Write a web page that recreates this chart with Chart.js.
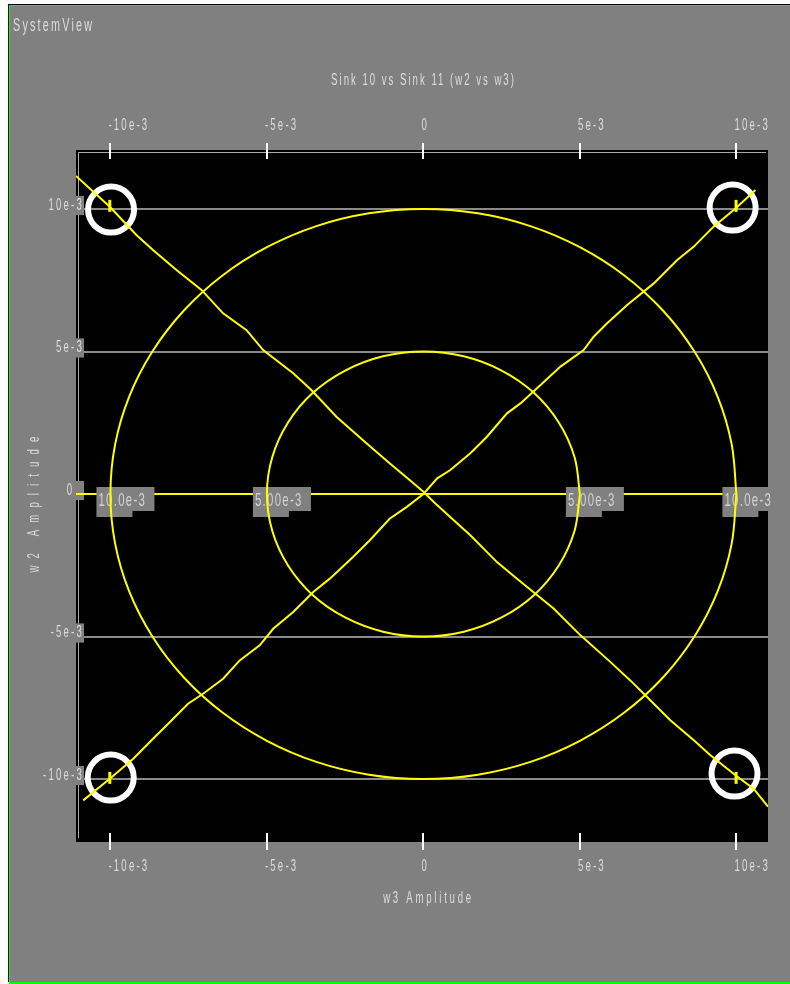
<!DOCTYPE html>
<html>
<head>
<meta charset="utf-8">
<script src="https://cdn.jsdelivr.net/npm/chart.js@4.4.1/dist/chart.umd.min.js"></script>
<style>
  html, body { margin: 0; padding: 0; background: #ffffff; }
  canvas { display: block; }
</style>
</head>
<body>
<canvas id="c" width="790" height="984"></canvas>
<script>
// ---------- DATA (values in units of 1e-3) ----------
const bigCircleW3 = [10.00, 9.85, 9.40, 8.66, 7.66, 6.43, 5.00, 3.42, 1.74, 0.00, -1.74, -3.42, -5.00, -6.43, -7.66, -8.66, -9.40, -9.85, -10.00, -9.85, -9.40, -8.66, -7.66, -6.43, -5.00, -3.42, -1.74, 0.00, 1.74, 3.42, 5.00, 6.43, 7.66, 8.66, 9.40, 9.85, 10.00];
const bigCircleW2 = [0.00, 1.74, 3.42, 5.00, 6.43, 7.66, 8.66, 9.40, 9.85, 10.00, 9.85, 9.40, 8.66, 7.66, 6.43, 5.00, 3.42, 1.74, 0.00, -1.74, -3.42, -5.00, -6.43, -7.66, -8.66, -9.40, -9.85, -10.00, -9.85, -9.40, -8.66, -7.66, -6.43, -5.00, -3.42, -1.74, 0.00];

const smallCircleW3 = [5.00, 4.83, 4.33, 3.54, 2.50, 1.29, 0.00, -1.29, -2.50, -3.54, -4.33, -4.83, -5.00, -4.83, -4.33, -3.54, -2.50, -1.29, 0.00, 1.29, 2.50, 3.54, 4.33, 4.83, 5.00];
const smallCircleW2 = [0.00, 1.29, 2.50, 3.54, 4.33, 4.83, 5.00, 4.83, 4.33, 3.54, 2.50, 1.29, 0.00, -1.29, -2.50, -3.54, -4.33, -4.83, -5.00, -4.83, -4.33, -3.54, -2.50, -1.29, 0.00];

const diagDownW3 = [-11.10, -10.02, -9.17, -8.64, -7.89, -7.09, -6.40, -5.65, -5.12, -4.16, -3.58, -2.78, -1.82, -1.08, -0.44, 0.00, 0.33, 0.97, 1.50, 2.35, 2.99, 3.58, 4.16, 5.02, 5.97, 6.61, 7.09, 7.89, 8.64, 9.17, 9.97, 10.55, 11.01];
const diagDownW2 = [11.16, 10.08, 9.09, 8.56, 7.86, 7.16, 6.34, 5.75, 5.05, 4.24, 3.65, 2.71, 1.78, 1.08, 0.49, 0.08, -0.28, -0.92, -1.45, -2.39, -2.97, -3.50, -4.02, -4.96, -5.89, -6.54, -7.06, -7.94, -8.64, -9.17, -9.87, -10.34, -10.97];

const diagUpW3 = [-10.87, -10.02, -9.27, -8.64, -8.21, -7.52, -7.04, -6.40, -5.87, -5.23, -4.80, -4.16, -3.52, -2.99, -2.25, -1.72, -1.08, -0.54, 0.00, 0.44, 0.86, 1.50, 2.03, 2.67, 3.10, 3.63, 4.38, 5.12, 5.44, 5.87, 6.51, 7.36, 8.11, 8.64, 9.27, 9.97, 10.61];
const diagUpW2 = [-10.75, -9.99, -9.29, -8.59, -8.12, -7.36, -7.01, -6.48, -5.84, -5.31, -4.73, -4.14, -3.44, -2.97, -2.21, -1.63, -0.87, -0.46, 0.00, 0.55, 0.84, 1.43, 2.01, 2.83, 3.18, 3.71, 4.47, 5.05, 5.52, 5.99, 6.63, 7.39, 8.21, 8.68, 9.38, 10.02, 10.67];

const zeroLineW3 = [-11.10, 11.01];
const zeroLineW2 = [0.00, 0.00];

const ringW3 = [-9.98, 9.88, -9.99, 9.94];
const ringW2 = [9.98, 10.05, -9.95, -9.81];

const markW3 = [-10.02, 9.99, -10.02, 9.99];
const markW2 = [10.11, 10.11, -9.96, -9.96];

const X_MIN = -11.10, X_MAX = 11.01;
const Y_MIN = -12.21, Y_MAX = 12.07;

const xTickValues = [-10, -5, 0, 5, 10];
const xTickLabels = ['-10e-3', '-5e-3', '0', '5e-3', '10e-3'];
const yTickValues = [-10, -5, 0, 5, 10];
const yTickLabels = ['-10e-3', '-5e-3', '0', '5e-3', '10e-3'];

const centerLabelValues = [-10, -5, 5, 10];
const centerLabelTexts = ['10.0e-3', '5.00e-3', '5.00e-3', '10.0e-3'];

const topLeftText = 'SystemView';
const chartTitle = 'Sink 10 vs Sink 11 (w2 vs w3)';
const xTitle = 'w3 Amplitude';
const yTitle = 'w2 Amplitude';

// ---------- STYLE ----------
const M = 1e-3;
const FONT = '"Liberation Sans", Arial, sans-serif';
const H_SCALE = 0.6;
const TICK_SPACING = 2.2;
const TEXT = '#dcdcdc';
const YELLOW = '#ffff00';
const GRAY = '#808080';

const pts = (xs, ys) => xs.map((v, i) => ({ x: v * M, y: ys[i] * M }));
const yLabelText = i => yTickLabels[i] + (yTickValues[i] === 0 ? '  ' : '');

// widest y label (as Chart.js measures it) so mirrored, right-aligned labels end at a fixed x
const measureCtx = document.createElement('canvas').getContext('2d');
measureCtx.font = '16px Liberation Sans';
const yWidest = Math.max(...yTickValues.map((v, i) => measureCtx.measureText(yLabelText(i)).width));

function drawText(ctx, text, x, y, o) {
  ctx.save();
  ctx.font = o.size + 'px ' + FONT;
  ctx.fillStyle = o.color || TEXT;
  ctx.textAlign = o.align || 'left';
  ctx.textBaseline = 'middle';
  ctx.translate(x, y);
  if (o.rotate) ctx.rotate(o.rotate);
  ctx.scale(H_SCALE, 1);
  ctx.letterSpacing = (o.spacing / H_SCALE) + 'px';
  CanvasRenderingContext2D.prototype.fillText.call(ctx, text, 0, 0);
  ctx.restore();
}

const textStyle = {
  id: 'textStyle',
  beforeDraw(chart) {
    const ctx = chart.ctx;
    if (ctx.__patched) return;
    ctx.__patched = true;
    const raw = CanvasRenderingContext2D.prototype.fillText;
    ctx.fillText = function (text, x, y) {
      this.save();
      this.translate(x, y);
      this.scale(H_SCALE, 1);
      this.letterSpacing = (TICK_SPACING / H_SCALE) + 'px';
      raw.call(this, text, 0, 0);
      this.restore();
    };
  }
};

const frame = {
  id: 'frame',
  beforeDraw(chart) {
    const ctx = chart.ctx, a = chart.chartArea;
    const W = chart.width, H = chart.height;
    ctx.save();
    ctx.fillStyle = '#ffffff'; ctx.fillRect(0, 0, W, H);
    ctx.fillStyle = '#000000'; ctx.fillRect(8, 4, W - 8, H - 6);
    ctx.fillStyle = '#00ff00'; ctx.fillRect(9, 5, W - 9, H - 5);
    ctx.fillStyle = GRAY; ctx.fillRect(10, 6, W - 10, H - 8);
    ctx.fillStyle = '#000000'; ctx.fillRect(a.left, a.top, a.right - a.left, a.bottom - a.top);
    ctx.fillStyle = '#a8a8a8';
    ctx.fillRect(a.left + 2, a.top + 2, a.right - a.left - 4, 1);
    ctx.fillRect(a.left + 2, a.top + 2, 1, a.bottom - a.top - 6);
    ctx.restore();
  },
  afterDatasetDraw(chart, args) {
    const ds = chart.data.datasets[args.index];
    if (ds.label !== 'zeroLine') return;
    const ctx = chart.ctx;
    const xs = chart.scales.x, ys = chart.scales.y;
    const y0 = ys.getPixelForValue(0);
    ctx.save();
    centerLabelValues.forEach((v, i) => {
      const px = xs.getPixelForValue(v * M);
      ctx.fillStyle = GRAY;
      ctx.fillRect(px - 14, y0 - 7, 58, 24);
      ctx.fillRect(px - 14, y0 + 17, 36, 6);
      drawText(ctx, centerLabelTexts[i], px - 12, y0 + 6.5, { size: 19, spacing: 1.3, color: '#d2d2d2' });
    });
    ctx.restore();
  },
  afterDraw(chart) {
    const ctx = chart.ctx, a = chart.chartArea;
    ctx.save();
    ctx.fillStyle = '#ffffff';
    chart.scales.x2.ticks.forEach(t => {
      const px = Math.round(chart.scales.x2.getPixelForValue(t.value));
      ctx.fillRect(px - 1, a.top - 7, 2, 16);
    });
    chart.scales.x.ticks.forEach(t => {
      const px = Math.round(chart.scales.x.getPixelForValue(t.value));
      ctx.fillRect(px - 1, a.bottom - 9, 2, 17);
    });
    ctx.restore();
    drawText(ctx, topLeftText, 13, 26.5, { size: 18, spacing: 2.2 });
    drawText(ctx, chartTitle, 423.5, 81, { size: 16, spacing: 2.0, align: 'center' });
    drawText(ctx, xTitle, 428.5, 899, { size: 16, spacing: 2.76, align: 'center' });
    drawText(ctx, yTitle, 35, 501, { size: 16, spacing: 7.1, align: 'center', rotate: -Math.PI / 2 });
  }
};

const lineDs = (label, xs, ys, order, tension) => ({
  label, data: pts(xs, ys), showLine: true, borderColor: YELLOW, borderWidth: 2,
  pointRadius: 0, tension: tension || 0, fill: false, order
});

const tickFont = { family: 'Liberation Sans', size: 16 };
const setTicks = vals => scale => { scale.ticks = vals.map(v => ({ value: v * M })); };
const fixSize = (prop, size) => scale => {
  scale[prop] = size;
  scale.paddingLeft = 0; scale.paddingRight = 0; scale.paddingTop = 0; scale.paddingBottom = 0;
};

const xAxisBase = {
  type: 'linear', min: X_MIN * M, max: X_MAX * M,
  grid: { display: false, drawTicks: false },
  border: { display: false },
  afterBuildTicks: setTicks(xTickValues),
  ticks: {
    color: TEXT, font: tickFont, padding: 15, align: 'start', labelOffset: -2,
    autoSkip: false, maxRotation: 0, minRotation: 0,
    callback: (v, i) => xTickLabels[i]
  }
};

new Chart(document.getElementById('c'), {
  type: 'scatter',
  data: {
    datasets: [
      { label: 'marks', data: pts(markW3, markW2), showLine: false, pointStyle: 'line', rotation: 90,
        pointRadius: 6, pointBorderWidth: 3, pointBorderColor: YELLOW, borderColor: YELLOW, order: 0 },
      lineDs('bigCircle', bigCircleW3, bigCircleW2, 1, 0.35),
      lineDs('smallCircle', smallCircleW3, smallCircleW2, 1, 0.35),
      lineDs('diagDown', diagDownW3, diagDownW2, 1),
      lineDs('diagUp', diagUpW3, diagUpW2, 1),
      lineDs('zeroLine', zeroLineW3, zeroLineW2, 2),
      { label: 'rings', data: pts(ringW3, ringW2), showLine: false, pointStyle: 'circle',
        pointRadius: 23, pointBorderWidth: 6, pointBorderColor: '#ffffff',
        pointBackgroundColor: 'rgba(0,0,0,0)', clip: false, order: 3 }
    ]
  },
  options: {
    responsive: false,
    devicePixelRatio: 1,
    animation: false,
    events: [],
    layout: { autoPadding: false, padding: { left: 0, top: 0, right: 22, bottom: 0 } },
    plugins: { legend: { display: false }, tooltip: { enabled: false }, title: { display: false } },
    scales: {
      x: Object.assign({}, xAxisBase, { position: 'bottom', afterFit: fixSize('height', 142) }),
      x2: Object.assign({}, xAxisBase, { position: 'top', afterFit: fixSize('height', 150) }),
      y: {
        type: 'linear', position: 'left', min: Y_MIN * M, max: Y_MAX * M,
        afterBuildTicks: setTicks(yTickValues),
        afterFit: fixSize('width', 76),
        grid: { color: '#8a8a8a', lineWidth: 2, drawTicks: false },
        border: { display: false },
        ticks: {
          color: TEXT, font: tickFont, mirror: true, crossAlign: 'far',
          padding: 8 - yWidest, labelOffset: -3.5, autoSkip: false,
          showLabelBackdrop: true, backdropColor: GRAY,
          backdropPadding: c => (c.tick && c.tick.value === 0)
            ? { top: 2.4, bottom: 2.4, left: 2, right: -7 }
            : { top: 2.4, bottom: 2.4, left: 2, right: 0 },
          callback: (v, i) => yLabelText(i)
        }
      }
    }
  },
  plugins: [textStyle, frame]
});
</script>
</body>
</html>
